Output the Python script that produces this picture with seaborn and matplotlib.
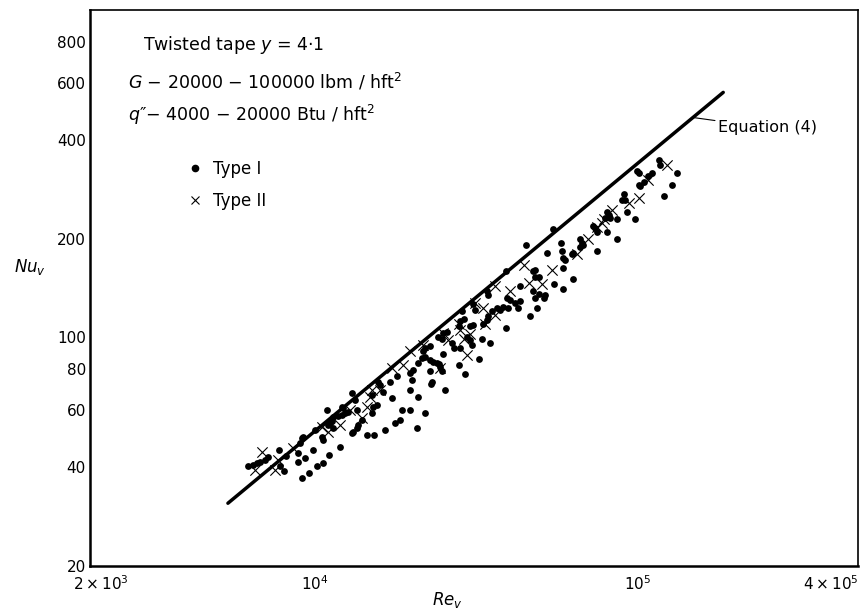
import numpy as np
import pandas as pd
import matplotlib
matplotlib.use("Agg")
import matplotlib.pyplot as plt
from matplotlib.lines import Line2D
from matplotlib.ticker import FixedLocator, NullFormatter
from matplotlib.transforms import ScaledTranslation
import seaborn as sns

# --- Data (Re_v, Nu_v) ---
type1_re = [6200, 6430, 6590, 6750, 6990, 7160, 7750, 8110, 7790, 8030, 8870, 8870, 9310, 9880,
            8980, 9090, 9200, 10000, 10490, 10610, 10970, 11270, 10870, 11790, 12100, 12400, 12660,
            9090, 9580, 10120, 10610, 11050, 11960, 13000, 13000, 13310, 12100, 12220, 11400, 13480,
            15000, 15730, 15920, 16300, 17100, 17310, 17940, 15170, 15540, 15000, 13960, 13630, 13480,
            13150, 14470, 15180, 16500, 17720, 18360, 18590, 19720, 20780, 21960, 20930, 19720, 19960,
            19720, 20200, 20930, 21450, 21960, 22760, 23300, 23880, 22760, 24750, 23030, 25330, 24150,
            25020, 25640, 21700, 11130, 11400, 22880, 45200, 52400, 39200, 34100, 34500, 28500, 31000,
            31400, 43300, 47600, 48200, 49400, 51200, 51800, 48200, 48800, 46500, 43300, 42800, 41800,
            40300, 39400, 39800, 38400, 37500, 36700, 35400, 34500, 34100, 33300, 39200, 28900, 28200,
            27900, 30300, 31000, 29600, 30300, 30700, 32900, 35000, 26600, 26900, 28100, 24800, 25000,
            32200, 27900, 22800, 22000, 24200, 24500, 54700, 99800, 101000, 116500, 118000, 133000,
            128000, 121000, 101000, 102000, 105000, 108000, 111000, 90700, 91800, 89700, 92900, 98600,
            80500, 81500, 79600, 82400, 86500, 74100, 75000, 80500, 86500, 66500, 67300, 66500, 68100,
            75000, 62700, 63400, 59800, 59000, 58400, 57900, 59000, 63400, 48200, 49700, 47400, 55200,
            59000, 72900, 29200]
type1_nu = [40.3, 40.7, 41.2, 41.7, 42.2, 43.0, 45.3, 43.4, 40.3, 38.9, 41.7, 44.2, 42.9, 45.3,
            47.6, 49.3, 49.7, 52.1, 49.7, 48.6, 54.0, 55.3, 60.0, 57.5, 57.9, 58.7, 59.3,
            37.1, 38.6, 40.3, 41.4, 43.7, 46.3, 51.0, 67.5, 64.4, 61.4, 60.8, 57.2, 60.0,
            66.7, 73.2, 71.5, 68.2, 73.2, 65.2, 75.9, 61.4, 62.1, 58.6, 55.9, 54.0, 52.7,
            51.5, 50.3, 50.3, 52.1, 54.6, 55.9, 60.0, 60.0, 52.7, 58.6, 65.9, 69.1, 74.1,
            77.7, 79.5, 83.4, 86.4, 87.3, 85.3, 84.3, 83.4, 78.6, 78.6, 73.2, 69.1, 100.5,
            102.9, 104.1, 90.5, 54.6, 52.7, 72.0, 192, 181, 159, 138, 135, 120, 126,
            121, 143, 159, 153, 136, 132, 135, 132, 123, 116, 129, 123, 127,
            130, 132, 123, 124, 121, 123, 120, 116, 113, 110, 107, 114, 112,
            108, 108, 109, 100, 98, 95, 99, 96, 96, 93, 93, 99, 89,
            86, 82, 94, 93, 83, 81, 214, 321, 318, 349, 337, 318,
            292, 271, 292, 289, 299, 310, 318, 273, 263, 263, 242, 229,
            242, 237, 231, 231, 230, 216, 210, 210, 200, 199, 194, 189, 192,
            183, 179, 181, 172, 175, 183, 194, 163, 151, 160, 153, 138, 145,
            140, 218, 77]

type2_re = [6830, 6510, 7690, 7510, 8560, 10490, 11000, 11960, 12840, 13960, 14470, 14820, 15000,
            15920, 17310, 18800, 19720, 21700, 24450, 25940, 44600, 36200, 40300, 46000, 50600,
            31400, 33300, 36200, 33700, 27900, 28200, 28900, 30300, 29600, 25000, 124000, 108000,
            101000, 94000, 83400, 78600, 77700, 75000, 70600, 65000, 54300]
type2_nu = [44.7, 39.3, 42.2, 39.3, 45.8, 53.3, 51.5, 54.0, 60.0, 56.6, 61.4, 65.9, 69.1,
            69.1, 80.5, 82.4, 90.5, 94.8, 80.5, 98.2, 166, 143, 138, 146, 145,
            127, 123, 117, 110, 110, 105, 99, 102, 88, 103, 337, 303,
            266, 257, 245, 229, 223, 217, 199, 179, 161]

# Equation (4) line end points
eq_re = [5360, 185000]
eq_nu = [31.1, 560]

x_major = [2e3, 1e4, 1e5, 4e5]
x_major_labels = [r'$2\times10^{3}$', r'$10^{4}$', r'$10^{5}$', r'$4\times10^{5}$']
x_minor = [3e3, 4e3, 5e3, 6e3, 7e3, 8e3, 9e3, 2e4, 3e4, 4e4, 5e4, 6e4, 7e4, 8e4, 9e4, 2e5, 3e5]
y_major = [20, 40, 60, 80, 100, 200, 400, 600, 800]
y_minor = [30, 50, 70, 90, 300, 500, 700, 900]

df1 = pd.DataFrame({'Re': type1_re, 'Nu': type1_nu})
df2 = pd.DataFrame({'Re': type2_re, 'Nu': type2_nu})
df_eq = pd.DataFrame({'Re': eq_re, 'Nu': eq_nu})

sns.set_style('white')
plt.rcParams['font.family'] = ['DejaVu Sans']
plt.rcParams['mathtext.fontset'] = 'dejavusans'
for key in ['text.color', 'axes.labelcolor', 'xtick.color', 'ytick.color', 'axes.edgecolor']:
    plt.rcParams[key] = 'black'

fig = plt.figure(figsize=(8.6, 6.12), dpi=100)
ax = fig.add_axes([0.1047, 0.0752, 0.893, 0.9085])

sns.lineplot(data=df_eq, x='Re', y='Nu', color='black', linewidth=2.5, ax=ax, legend=False)
sns.scatterplot(data=df1, x='Re', y='Nu', marker='o', color='black', s=24,
                edgecolor='black', linewidth=0, ax=ax, legend=False)
sns.scatterplot(data=df2, x='Re', y='Nu', marker='x', color='black', s=55,
                linewidth=0.8, ax=ax, legend=False)

ax.set_xscale('log')
ax.set_yscale('log')
ax.set_xlim(2e3, 4.85e5)
ax.set_ylim(20, 1000)

ax.xaxis.set_major_locator(FixedLocator(x_major))
ax.set_xticklabels(x_major_labels)
ax.xaxis.set_minor_locator(FixedLocator(x_minor))
ax.xaxis.set_minor_formatter(NullFormatter())
ax.yaxis.set_major_locator(FixedLocator(y_major))
ax.set_yticklabels([str(v) for v in y_major])
ax.yaxis.set_minor_locator(FixedLocator(y_minor))
ax.yaxis.set_minor_formatter(NullFormatter())

ax.tick_params(which='major', direction='in', length=9, width=1.0, labelsize=11)
ax.tick_params(axis='x', which='major', pad=6)
ax.tick_params(axis='y', which='major', pad=3)
ax.tick_params(which='minor', direction='in', length=5, width=0.9)

# first x label sits just right of the corner, as in the original
first = ax.get_xticklabels()[0]
first.set_horizontalalignment('left')
first.set_transform(first.get_transform() + ScaledTranslation(-0.17, 0, fig.dpi_scale_trans))

for side in ['left', 'bottom']:
    ax.spines[side].set_linewidth(1.8)
for side in ['top', 'right']:
    ax.spines[side].set_linewidth(1.2)

ax.set_xlabel(r'$Re_v$', fontsize=12)
ax.xaxis.set_label_coords(0.465, -0.043)
ax.set_ylabel(r'$Nu_v$', fontsize=12, rotation=0)
ax.yaxis.set_label_coords(-0.078, 0.52)

# annotation block
ax.text(0.069, 0.937, r'Twisted tape $y$ = 4·1', transform=ax.transAxes,
        fontsize=12.5, va='center', ha='left')
ax.text(0.0495, 0.870, r'$G$ − 20000 − 100000 lbm / hft$^{2}$', transform=ax.transAxes,
        fontsize=12.5, va='center', ha='left')
ax.text(0.0495, 0.811, r'$q$″− 4000 − 20000 Btu / hft$^{2}$', transform=ax.transAxes,
        fontsize=12.5, va='center', ha='left')

handles = [Line2D([], [], marker='o', color='black', linestyle='none', markersize=4.5),
           Line2D([], [], marker='x', color='black', linestyle='none', markersize=6,
                  markeredgewidth=0.8)]
ax.legend(handles, ['Type I', 'Type II'], loc='upper left', bbox_to_anchor=(0.108, 0.758),
          frameon=False, fontsize=12, handlelength=0.8, handletextpad=0.7, labelspacing=0.85)

# Equation (4) label with leader
lx = 1.49e5
ly = 10 ** np.interp(np.log10(lx), np.log10(eq_re), np.log10(eq_nu))
ax.annotate('Equation (4)', xy=(lx, ly), xytext=(0.818, 0.788), textcoords='axes fraction',
            fontsize=11.5, va='center', ha='left',
            arrowprops=dict(arrowstyle='-', color='black', linewidth=0.8, shrinkA=0, shrinkB=0))

fig.savefig('out.png', dpi=100)
